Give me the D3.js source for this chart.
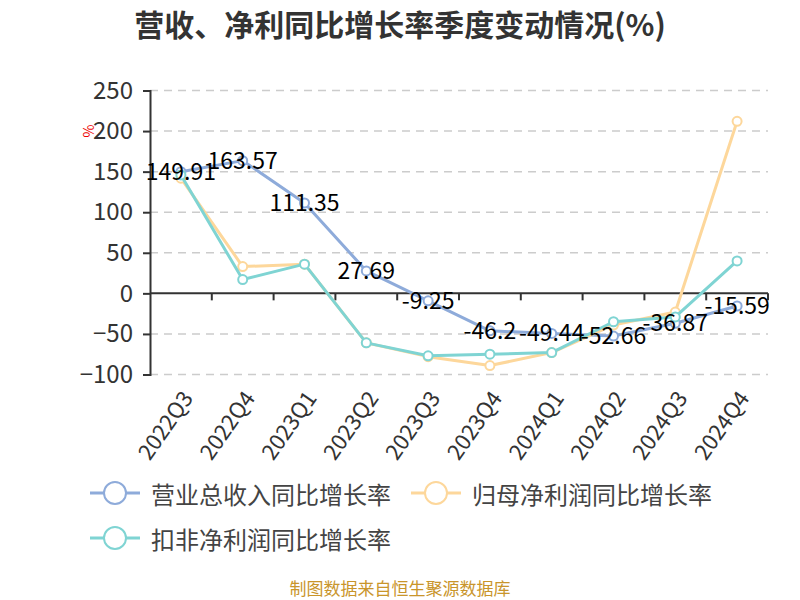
<!DOCTYPE html>
<html>
<head>
<meta charset="utf-8">
<script src="https://cdn.jsdelivr.net/npm/d3@7"></script>
<style>
  body { margin: 0; background: #fff; }
  #chart-area { width: 800px; height: 600px; }
  text { font-family: "Noto Sans CJK SC", "Noto Sans", sans-serif; }
</style>
</head>
<body>
<div id="chart-area"></div>
<script>
// 营收、净利同比增长率 quarterly chart

const quarters = ["2022Q3", "2022Q4", "2023Q1", "2023Q2", "2023Q3", "2023Q4", "2024Q1", "2024Q2", "2024Q3", "2024Q4"];

// 营业总收入同比增长率 (labelled values)
const revenueGrowth = [149.91, 163.57, 111.35, 27.69, -9.25, -46.2, -49.44, -52.66, -36.87, -15.59];
// 归母净利润同比增长率
const netProfitGrowth = [142, 33, 36, -61, -78, -89, -73, -39, -23, 212];
// 扣非净利润同比增长率
const deductedProfitGrowth = [146, 17, 36, -61, -77, -75, -73, -35, -29, 40];

const yTicks = [-100, -50, 0, 50, 100, 150, 200, 250];

const seriesNames = ["营业总收入同比增长率", "归母净利润同比增长率", "扣非净利润同比增长率"];
const seriesColors = ["#8eabda", "#fdd79b", "#7fd4d3"];

const W = 800, H = 600;
const margin = { top: 90.5, right: 32, bottom: 225.5, left: 150 };

const svg = d3.select("#chart-area")
  .append("svg")
  .attr("width", W)
  .attr("height", H);

// Scales
const xScale = d3.scaleBand()
  .domain(quarters)
  .range([margin.left, W - margin.right]);

const yScale = d3.scaleLinear()
  .domain([-100, 250])
  .range([H - margin.bottom, margin.top]);

const xc = d => xScale(d) + xScale.bandwidth() / 2;

function drawTitle() {
  svg.append("text")
    .attr("x", 400)
    .attr("y", 23)
    .attr("text-anchor", "middle")
    .attr("dominant-baseline", "central")
    .style("font-size", "30px")
    .style("font-weight", "bold")
    .style("fill", "#333")
    .text("营收、净利同比增长率季度变动情况(%)");

  // little red unit mark by the y axis
  svg.append("text")
    .attr("transform", "translate(88,131) rotate(-90)")
    .attr("text-anchor", "middle")
    .attr("dominant-baseline", "central")
    .style("font-size", "14px")
    .style("fill", "#e00")
    .text("%");
}

function drawAxes() {
  // dashed grid lines
  svg.append("g")
    .selectAll("line")
    .data(yTicks.filter(t => t !== 0))
    .join("line")
    .attr("x1", margin.left)
    .attr("x2", W - margin.right)
    .attr("y1", d => yScale(d))
    .attr("y2", d => yScale(d))
    .attr("stroke", "#ccc")
    .attr("stroke-width", 1.5)
    .attr("stroke-dasharray", "8,6");

  const yAxis = d3.axisLeft(yScale).tickValues(yTicks).tickSize(7).tickPadding(10);
  const yAxisGroup = svg.append("g")
    .attr("transform", `translate(${margin.left},0)`)
    .call(yAxis);
  yAxisGroup.select(".domain").attr("stroke", "#333").attr("stroke-width", 2);
  yAxisGroup.selectAll(".tick line").attr("stroke", "#333").attr("stroke-width", 2);
  yAxisGroup.selectAll("text")
    .style("font-family", "'Noto Sans CJK SC', sans-serif")
    .style("font-size", "24px")
    .style("fill", "#333");

  // x axis line sits at zero, ticks between categories
  const xAxisGroup = svg.append("g")
    .attr("transform", `translate(0,${yScale(0)})`);
  xAxisGroup.append("line")
    .attr("x1", margin.left)
    .attr("x2", W - margin.right)
    .attr("stroke", "#333")
    .attr("stroke-width", 2);
  const bounds = quarters.map(q => xScale(q)).concat([W - margin.right]).slice(1);
  xAxisGroup.selectAll(".xtick")
    .data(bounds)
    .join("line")
    .attr("class", "xtick")
    .attr("x1", d => d)
    .attr("x2", d => d)
    .attr("y1", 0)
    .attr("y2", 7)
    .attr("stroke", "#333")
    .attr("stroke-width", 2);

  // rotated category labels below the plot
  svg.append("g")
    .selectAll("text")
    .data(quarters)
    .join("text")
    .attr("transform", d => `translate(${xc(d) + 5},${H - margin.bottom + 18}) rotate(-55)`)
    .attr("text-anchor", "end")
    .attr("dominant-baseline", "central")
    .style("font-size", "22px")
    .style("fill", "#333")
    .text(d => d);
}

function drawSeries(values, color) {
  const line = d3.line()
    .x((d, i) => xc(quarters[i]))
    .y(d => yScale(d));

  const g = svg.append("g");
  g.append("path")
    .datum(values)
    .attr("fill", "none")
    .attr("stroke", color)
    .attr("stroke-width", 3)
    .attr("stroke-linejoin", "round")
    .attr("d", line);

  g.selectAll("circle")
    .data(values)
    .join("circle")
    .attr("cx", (d, i) => xc(quarters[i]))
    .attr("cy", d => yScale(d))
    .attr("r", 4.5)
    .attr("fill", "#fff")
    .attr("stroke", color)
    .attr("stroke-width", 2);
}

function drawLabels() {
  svg.append("g")
    .selectAll("text")
    .data(revenueGrowth)
    .join("text")
    .attr("x", (d, i) => xc(quarters[i]))
    .attr("y", d => yScale(d) - 2)
    .attr("text-anchor", "middle")
    .attr("dominant-baseline", "central")
    .style("font-size", "23px")
    .style("fill", "#000")
    .text(d => d);
}

function drawLegend() {
  const items = [
    { x: 90, y: 493 },
    { x: 411, y: 493 },
    { x: 90, y: 538 }
  ];
  const lg = svg.append("g");
  items.forEach((it, i) => {
    lg.append("line")
      .attr("x1", it.x).attr("x2", it.x + 50)
      .attr("y1", it.y).attr("y2", it.y)
      .attr("stroke", seriesColors[i])
      .attr("stroke-width", 3);
    lg.append("circle")
      .attr("cx", it.x + 25).attr("cy", it.y)
      .attr("r", 11)
      .attr("fill", "#fff")
      .attr("stroke", seriesColors[i])
      .attr("stroke-width", 2);
    lg.append("text")
      .attr("x", it.x + 61)
      .attr("y", it.y)
      .attr("dominant-baseline", "central")
      .style("font-size", "24px")
      .style("fill", "#444")
      .text(seriesNames[i]);
  });
}

function drawFooter() {
  svg.append("text")
    .attr("x", 400)
    .attr("y", 587)
    .attr("text-anchor", "middle")
    .attr("dominant-baseline", "central")
    .style("font-size", "17px")
    .style("fill", "#c9952b")
    .text("制图数据来自恒生聚源数据库");
}

drawTitle();
drawAxes();
drawSeries(revenueGrowth, seriesColors[0]);
drawSeries(netProfitGrowth, seriesColors[1]);
drawSeries(deductedProfitGrowth, seriesColors[2]);
drawLabels();
drawLegend();
drawFooter();
</script>
</body>
</html>
